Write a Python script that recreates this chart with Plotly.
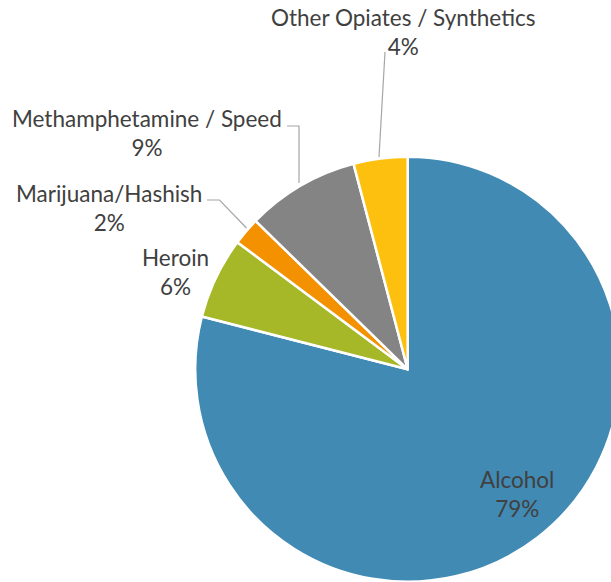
import plotly.graph_objects as go

# ---- data ----
categories = ["Alcohol", "Heroin", "Marijuana/Hashish", "Methamphetamine / Speed", "Other Opiates / Synthetics"]
values = [79.0, 6.2, 2.1, 8.6, 4.1]
colors = ["#418AB3", "#A6B727", "#F49100", "#848484", "#FEC00F"]

W, H = 624, 582
total = sum(values)
pct_labels = [f"{v / total * 100:.0f}%" for v in values]

# label centre positions in pixels (layout, not data)
label_pos = {
    "Alcohol": (516.5, 494),
    "Heroin": (175.3, 272),
    "Marijuana/Hashish": (108.7, 207.5),
    "Methamphetamine / Speed": (147, 133.3),
    "Other Opiates / Synthetics": (403, 31.5),
}
# leader lines (pixel polylines)
leaders = [
    [(385, 52), (379, 157)],
    [(287, 126), (299, 126), (299, 183)],
    [(207, 200), (219.5, 200), (246.5, 228)],
]

def px(x):
    return x / W

def py(y):
    return 1 - y / H

fig = go.Figure()
fig.add_trace(go.Pie(
    labels=categories,
    values=values,
    sort=False,
    direction="clockwise",
    rotation=0,
    marker=dict(colors=colors, line=dict(color="white", width=2.5)),
    textinfo="none",
    hoverinfo="label+percent",
    showlegend=False,
    domain=dict(x=[195.2 / W, 620.2 / W], y=[0.2 / H, (H - 156.8) / H]),
))

for cat, pct in zip(categories, pct_labels):
    x, y = label_pos[cat]
    fig.add_annotation(
        x=px(x), y=py(y), xref="paper", yref="paper",
        text=f"{cat}<br>{pct}", showarrow=False,
        xanchor="center", yanchor="middle", align="center",
        font=dict(family="Lato", size=22.5, color="#404040"),
    )

for pts in leaders:
    path = "M " + " L ".join(f"{px(x)},{py(y)}" for x, y in pts)
    fig.add_shape(type="path", path=path, xref="paper", yref="paper",
                  line=dict(color="#A6A6A6", width=1.2))

fig.update_layout(
    width=W, height=H,
    margin=dict(l=0, r=0, t=0, b=0),
    paper_bgcolor="white",
    plot_bgcolor="white",
)

fig.write_html(
    "out.html",
    config={"displayModeBar": False},
    post_script="document.documentElement.style.overflow='hidden';"
                "document.body.style.overflow='hidden';"
                "document.body.style.margin='0';",
)
